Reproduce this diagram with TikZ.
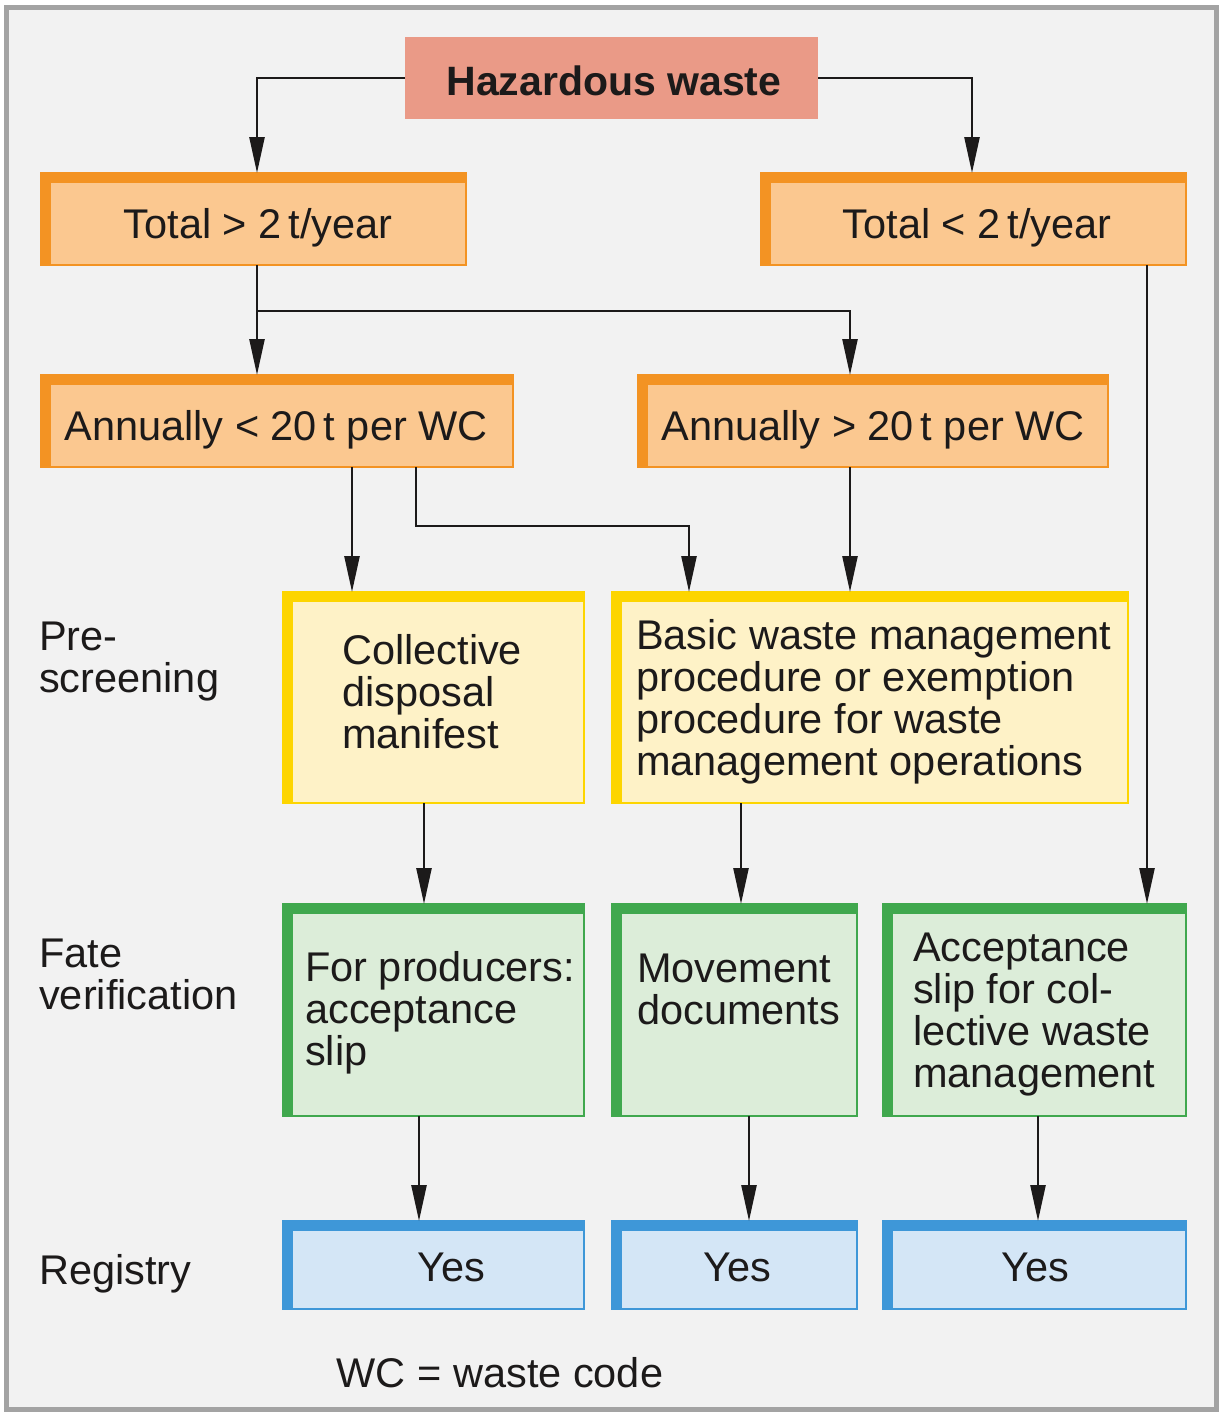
\documentclass[tikz,border=0pt]{standalone}
\usepackage{fontspec}
\setmainfont{Liberation Sans}
\usetikzlibrary{arrows.meta}
\definecolor{bgc}{HTML}{F2F2F2}
\definecolor{framec}{HTML}{A3A3A3}
\definecolor{hazc}{HTML}{EA9A87}
\definecolor{orB}{HTML}{F39323}
\definecolor{orF}{HTML}{FBC890}
\definecolor{yeB}{HTML}{FDD500}
\definecolor{yeF}{HTML}{FEF2C7}
\definecolor{grB}{HTML}{40A84E}
\definecolor{grF}{HTML}{DCEDD9}
\definecolor{blB}{HTML}{3E97D8}
\definecolor{blF}{HTML}{D4E6F6}
\definecolor{txt}{HTML}{1C1A1A}
\newcommand\flowbox[6]{%
  \node[boxshape, draw=#6B, fill=#6F, minimum width={#4-#2-2}, minimum height={#5-#3-2}] (#1) at ({(#2+#4)/2},{(#3+#5)/2}) {};
  \fill[#6B] ([xshift=-1pt,yshift=1pt]#1.north west) rectangle ([xshift=1pt,yshift=-10pt]#1.north east);
  \fill[#6B] ([xshift=-1pt,yshift=1pt]#1.north west) rectangle ([xshift=10pt,yshift=-1pt]#1.south west);
}
\tikzset{
  boxshape/.style={rectangle, line width=2pt, inner sep=0pt, outer sep=0pt},
  lbl/.style={font=\fontsize{41.5}{42}\selectfont, text=txt, inner sep=0pt, align=left},
  arr/.style={draw=txt, line width=2.5pt, -{Triangle[length=36pt,width=15pt]}},
}
\begin{document}
\begin{tikzpicture}[x=1pt,y=-1pt]
\useasboundingbox (0,0) rectangle (1225,1414);
\fill[white] (0,0) rectangle (1225,1414);
\draw[framec, line width=5pt, fill=bgc] (6.5,7) rectangle (1216,1409.5);

% top node
\node[rectangle, fill=hazc, inner sep=0pt, outer sep=0pt, minimum width=413, minimum height=82] (haz) at (611.5,78) {};
\node[lbl, anchor=base, font=\fontsize{41}{42}\selectfont\bfseries] (hazt) at (614,95) {Hazardous waste};

% boxes
\flowbox{t1}{40}{172}{467}{266}{or}
\flowbox{t2}{760}{172}{1187}{266}{or}
\flowbox{a1}{40}{374}{514}{468}{or}
\flowbox{a2}{637}{374}{1109}{468}{or}
\flowbox{c1}{282}{591}{585}{804}{ye}
\flowbox{b1}{611}{591}{1129}{804}{ye}
\flowbox{g1}{282}{903}{585}{1117}{gr}
\flowbox{g2}{611}{903}{858}{1117}{gr}
\flowbox{g3}{882}{903}{1187}{1117}{gr}
\flowbox{y1}{282}{1220}{585}{1310}{bl}
\flowbox{y2}{611}{1220}{858}{1310}{bl}
\flowbox{y3}{882}{1220}{1187}{1310}{bl}

% texts in boxes
\node[lbl, anchor=base] (t1t) at (258,238) {Total > 2\,t/year};
\node[lbl, anchor=base] (t2t) at (977,238) {Total < 2\,t/year};
\node[lbl, anchor=base] (a1t) at (276,440) {Annually < 20\,t per WC};
\node[lbl, anchor=base] (a2t) at (873,440) {Annually > 20\,t per WC};
\node[lbl, anchor=base west] (c1t) at (342,748) {Collective\\disposal\\manifest};
\node[lbl, anchor=base west] (b1t) at (636,775) {Basic waste management\\procedure or exemption\\procedure for waste\\management operations};
\node[lbl, anchor=base west] (g1t) at (305,1065) {For producers:\\acceptance\\slip};
\node[lbl, anchor=base west] (g2t) at (637,1024) {Movement\\documents};
\node[lbl, anchor=base west] (g3t) at (913,1087) {Acceptance\\slip for col-\\lective waste\\management};
\node[lbl, anchor=base] (y1t) at (451,1281) {Yes};
\node[lbl, anchor=base] (y2t) at (737,1281) {Yes};
\node[lbl, anchor=base] (y3t) at (1035,1281) {Yes};

% side labels
\node[lbl, anchor=base west] (pre) at (39,692) {Pre-\\screening};
\node[lbl, anchor=base west] (fate) at (39,1009) {Fate\\verification};
\node[lbl, anchor=base west] (reg) at (39,1284) {Registry};
\node[lbl, anchor=base] (wc) at (500,1387) {WC = waste code};

% connectors
\draw[arr] (haz.west) -| ([xshift=3.5pt]t1.north);
\draw[arr] (haz.east) -| ([xshift=-1.5pt]t2.north);
\draw[arr] ([xshift=3.5pt]t1.south) -- ([xshift=-20pt]a1.north);
\draw[arr] ([xshift=3.5pt,yshift=-46pt]t1.south) -| ([xshift=-23pt]a2.north);
\draw[arr] ([xshift=173.5pt]t2.south) -- ([xshift=112.5pt]g3.north);
\draw[arr] ([xshift=75pt]a1.south) -- ([xshift=-81.5pt]c1.north);
\draw[arr] ([xshift=139pt]a1.south) |- ([xshift=-181pt,yshift=66pt]b1.north) -- ([xshift=-181pt]b1.north);
\draw[arr] ([xshift=-23pt]a2.south) -- ([xshift=-20pt]b1.north);
\draw[arr] ([xshift=-9.5pt]c1.south) -- ([xshift=-9.5pt]g1.north);
\draw[arr] ([xshift=-129pt]b1.south) -- ([xshift=6.5pt]g2.north);
\draw[arr] ([xshift=-14.5pt]g1.south) -- ([xshift=-14.5pt]y1.north);
\draw[arr] ([xshift=14.5pt]g2.south) -- ([xshift=14.5pt]y2.north);
\draw[arr] ([xshift=3.5pt]g3.south) -- ([xshift=3.5pt]y3.north);
\end{tikzpicture}
\end{document}
